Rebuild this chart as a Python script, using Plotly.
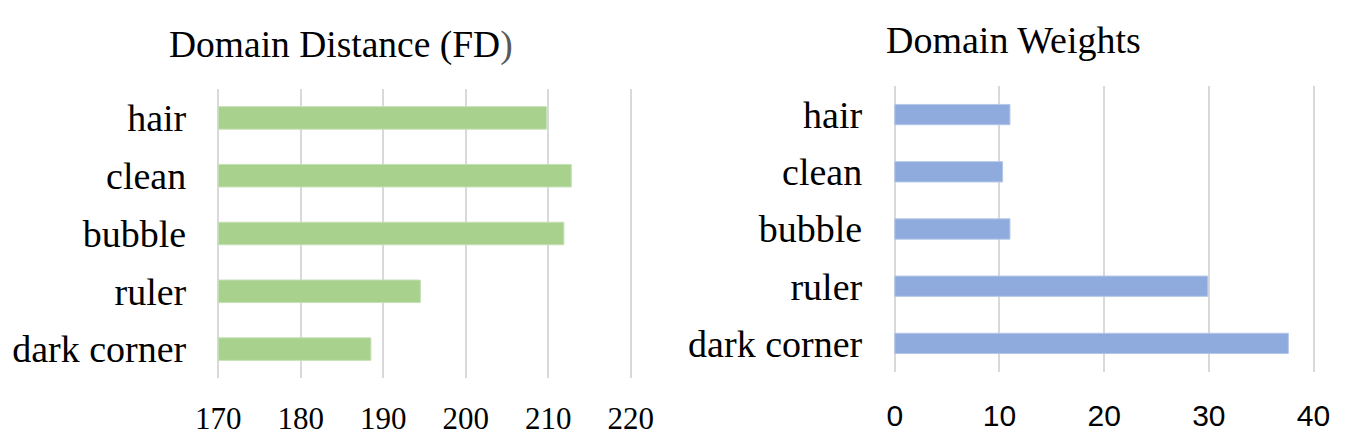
import plotly.graph_objects as go

categories = ["hair", "clean", "bubble", "ruler", "dark corner"]
fd_values = [209.8, 212.8, 211.9, 194.5, 188.5]
weight_values = [11.0, 10.3, 11.0, 29.9, 37.6]
fd_ticks = [170, 180, 190, 200, 210, 220]
weight_ticks = [0, 10, 20, 30, 40]

SERIF = "Liberation Serif, Times New Roman, serif"
SANS = "Liberation Sans, Arial, sans-serif"
GRID = "#d9d9d9"
OFF = 8  # default page body margin
W, H = 1352 - 2 * OFF, 445 - 2 * OFF


def px(p):
    return (p - OFF) / W


def py(p):
    return 1 - (p - OFF) / H


# pixel layout (screen coordinates)
L_X0, L_X1, L_PAD = 218.3, 630.7, 0.25      # 170..220
R_X0, R_X1, R_PAD = 894.8, 1313.5, 0.25     # 0..40
lpx = (L_X1 - L_X0) / 50.0
rpx = (R_X1 - R_X0) / 40.0

fig = go.Figure()
fig.add_trace(go.Bar(
    x=[v - 170 for v in fd_values], base=170, y=categories, orientation="h",
    marker=dict(color="#a9d18e", line=dict(color="#c5e0b4", width=1)),
    width=0.39, xaxis="x", yaxis="y", showlegend=False, hoverinfo="skip",
))
fig.add_trace(go.Bar(
    x=weight_values, y=categories, orientation="h",
    marker=dict(color="#8faadc", line=dict(color="#b4c7e7", width=1)),
    width=0.355, xaxis="x2", yaxis="y2", showlegend=False, hoverinfo="skip",
))

xcommon = dict(showgrid=True, gridcolor=GRID, gridwidth=1.5, zeroline=False,
               showline=False, ticks="", fixedrange=True, automargin=False)
ycommon = dict(type="category", categoryorder="array", categoryarray=categories,
               autorange="reversed", showgrid=False, zeroline=False, showline=False,
               ticks="", ticklabelstandoff=29, automargin=False,
               tickfont=dict(family=SERIF, size=38, color="#000000"))

fig.update_layout(
    width=W, height=H,
    margin=dict(l=0, r=0, t=0, b=0, autoexpand=False),
    paper_bgcolor="white", plot_bgcolor="white",
    xaxis=dict(domain=[px(L_X0 - L_PAD * lpx), px(L_X1 + L_PAD * lpx)],
               range=[170 - L_PAD, 220 + L_PAD],
               tickvals=fd_ticks, ticklabelstandoff=19, anchor="y",
               tickfont=dict(family=SERIF, size=31, color="#000000"), **xcommon),
    yaxis=dict(domain=[py(378), py(89)], anchor="x", **ycommon),
    xaxis2=dict(domain=[px(R_X0 - R_PAD * rpx), px(R_X1 + R_PAD * rpx)],
                range=[0 - R_PAD, 40 + R_PAD],
                tickvals=weight_ticks, ticklabelstandoff=23, anchor="y2",
                tickfont=dict(family=SANS, size=30, color="#000000"), **xcommon),
    yaxis2=dict(domain=[py(372), py(86)], anchor="x2", **ycommon),
    annotations=[
        dict(text='Domain Distance (FD<span style="color:#595959">)</span>',
             x=px(341), y=py(45), xref="paper", yref="paper",
             xanchor="center", yanchor="middle", showarrow=False,
             font=dict(family=SERIF, size=37.5, color="#000000")),
        dict(text="Domain Weights",
             x=px(1013.6), y=py(40), xref="paper", yref="paper",
             xanchor="center", yanchor="middle", showarrow=False,
             font=dict(family=SERIF, size=38, color="#000000")),
    ],
)

fig.write_html("out.html")
